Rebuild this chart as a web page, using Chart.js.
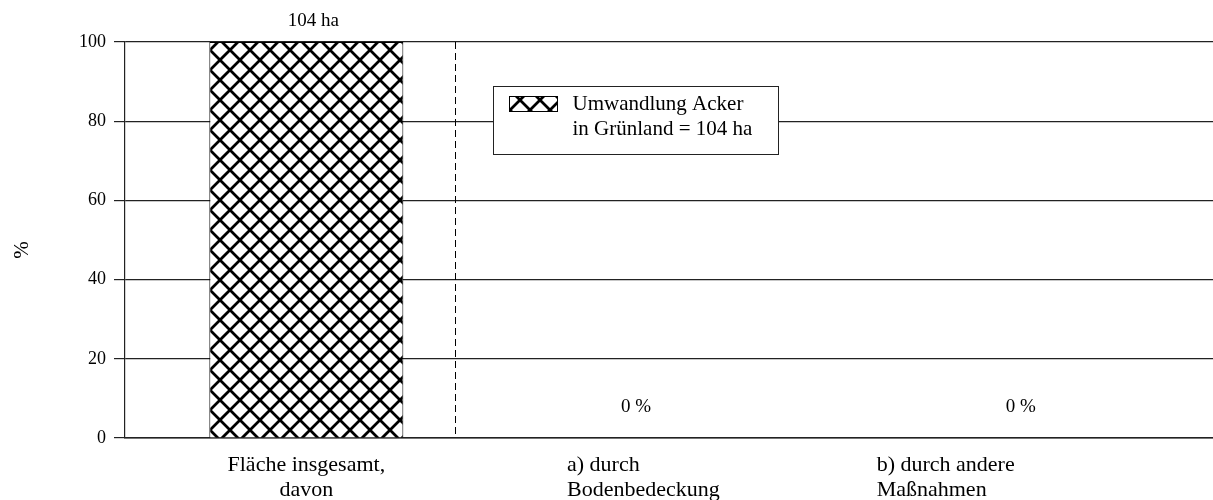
<!DOCTYPE html>
<html>
<head>
<meta charset="utf-8">
<script src="https://cdn.jsdelivr.net/npm/chart.js@4/dist/chart.umd.min.js"></script>
<style>
  html, body { margin: 0; padding: 0; background: #fff; }
  #wrap { width: 1213px; height: 500px; }
</style>
</head>
<body>
<div id="wrap"><canvas id="chart"></canvas></div>
<script>
// Flächenanteile (%) und absolute Fläche (ha)
const categories = [
    ["Fläche insgesamt,", "davon"],
    ["a) durch", "Bodenbedeckung"],
    ["b) durch andere", "Maßnahmen"]
];
const percent = [100, 0, 0];
const hectares = [104, 0, 0];
const yTicks = [0, 20, 40, 60, 80, 100];
const legendLines = ["Umwandlung Acker", "in Grünland = 104 ha"];

const FONT = "'Liberation Serif', 'Times New Roman', serif";

// Kreuzschraffur für den Balken
function makeHatch() {
    const size = 20;
    const c = document.createElement("canvas");
    c.width = size;
    c.height = size;
    const g = c.getContext("2d");
    g.fillStyle = "#fff";
    g.fillRect(0, 0, size, size);
    g.strokeStyle = "#000";
    g.lineWidth = 2.8;
    g.beginPath();
    for (let k = -1; k <= 1; k++) {
        g.moveTo(k * size, 0);
        g.lineTo(k * size + size, size);
        g.moveTo(k * size, size);
        g.lineTo(k * size + size, 0);
    }
    g.stroke();
    return c;
}

const hatchCanvas = makeHatch();

// Beschriftungen, Trennlinie und Legende
const decorations = {
    id: "decorations",
    afterDatasetsDraw(chart) {
        const { ctx, chartArea, scales } = chart;
        const x = scales.x, y = scales.y;
        const pattern = ctx.createPattern(hatchCanvas, "repeat");
        ctx.save();
        ctx.fillStyle = "#000";
        ctx.textBaseline = "middle";

        // Werte über den Balken
        ctx.font = "19px " + FONT;
        ctx.textAlign = "center";
        percent.forEach((v, i) => {
            const cx = x.getPixelForValue(i);
            if (i === 0) {
                ctx.fillText(hectares[i] + " ha", cx + 7, y.getPixelForValue(v) - 21);
            } else {
                const shift = i === 1 ? -33 : -11;
                ctx.fillText(v + " %", cx + shift, y.getPixelForValue(v) - 31);
            }
        });

        // Kategorienbeschriftung
        ctx.font = "22px " + FONT;
        categories.forEach((lines, i) => {
            const cx = x.getPixelForValue(i);
            lines.forEach((line, j) => {
                const ly = chartArea.bottom + 27 + j * 25;
                if (i === 0) {
                    ctx.textAlign = "center";
                    ctx.fillText(line, cx, ly);
                } else {
                    ctx.textAlign = "left";
                    ctx.fillText(line, cx + (i === 1 ? -102 : -155), ly);
                }
            });
        });

        // Achsentitel
        ctx.save();
        ctx.font = "21px " + FONT;
        ctx.textAlign = "center";
        ctx.translate(22, 250);
        ctx.rotate(-Math.PI / 2);
        ctx.fillText("%", 0, 0);
        ctx.restore();

        // gestrichelte Trennlinie
        const dx = Math.round(x.getPixelForValue(0.41)) + 0.5;
        ctx.strokeStyle = "#000";
        ctx.lineWidth = 1;
        ctx.setLineDash([7, 4]);
        ctx.beginPath();
        ctx.moveTo(dx, chartArea.top);
        ctx.lineTo(dx, chartArea.bottom);
        ctx.stroke();
        ctx.setLineDash([]);

        // Legende
        const lx = chartArea.left + 368.5, ly = chartArea.top + 44.5;
        ctx.fillStyle = "#fff";
        ctx.fillRect(lx, ly, 285, 68);
        ctx.strokeStyle = "#222";
        ctx.strokeRect(lx, ly, 285, 68);
        ctx.fillStyle = pattern;
        ctx.fillRect(lx + 16, ly + 10, 48, 15);
        ctx.strokeStyle = "#000";
        ctx.strokeRect(lx + 16, ly + 10, 48, 15);
        ctx.fillStyle = "#000";
        ctx.font = "21px " + FONT;
        ctx.textAlign = "left";
        legendLines.forEach((line, j) => {
            ctx.fillText(line, lx + 79, ly + 18 + j * 25);
        });
        ctx.restore();
    }
};

const ctx = document.getElementById("chart").getContext("2d");
const hatch = ctx.createPattern(hatchCanvas, "repeat");

new Chart(ctx, {
    type: "bar",
    data: {
        labels: categories,
        datasets: [{
            data: percent,
            backgroundColor: hatch,
            borderColor: "#000",
            borderWidth: 1,
            categoryPercentage: 1,
            barPercentage: 0.535
        }]
    },
    options: {
        responsive: true,
        maintainAspectRatio: false,
        animation: false,
        layout: { padding: { top: 42, right: 0, bottom: 0, left: 0 } },
        plugins: {
            legend: { display: false },
            tooltip: { enabled: false }
        },
        scales: {
            x: {
                grid: { display: false },
                border: { display: true, color: "#222", width: 1.5 },
                ticks: { display: false },
                afterFit: s => { s.height = 62; }
            },
            y: {
                min: 0,
                max: 100,
                afterBuildTicks: s => { s.ticks = yTicks.map(v => ({ value: v })); },
                grid: { color: "#222", lineWidth: 1.2, tickLength: 11 },
                border: { display: true, color: "#222", width: 1.2 },
                ticks: {
                    color: "#000",
                    padding: 8,
                    font: { family: FONT, size: 18 }
                },
                afterFit: s => { s.width = 125; }
            }
        }
    },
    plugins: [decorations]
});
</script>
</body>
</html>
